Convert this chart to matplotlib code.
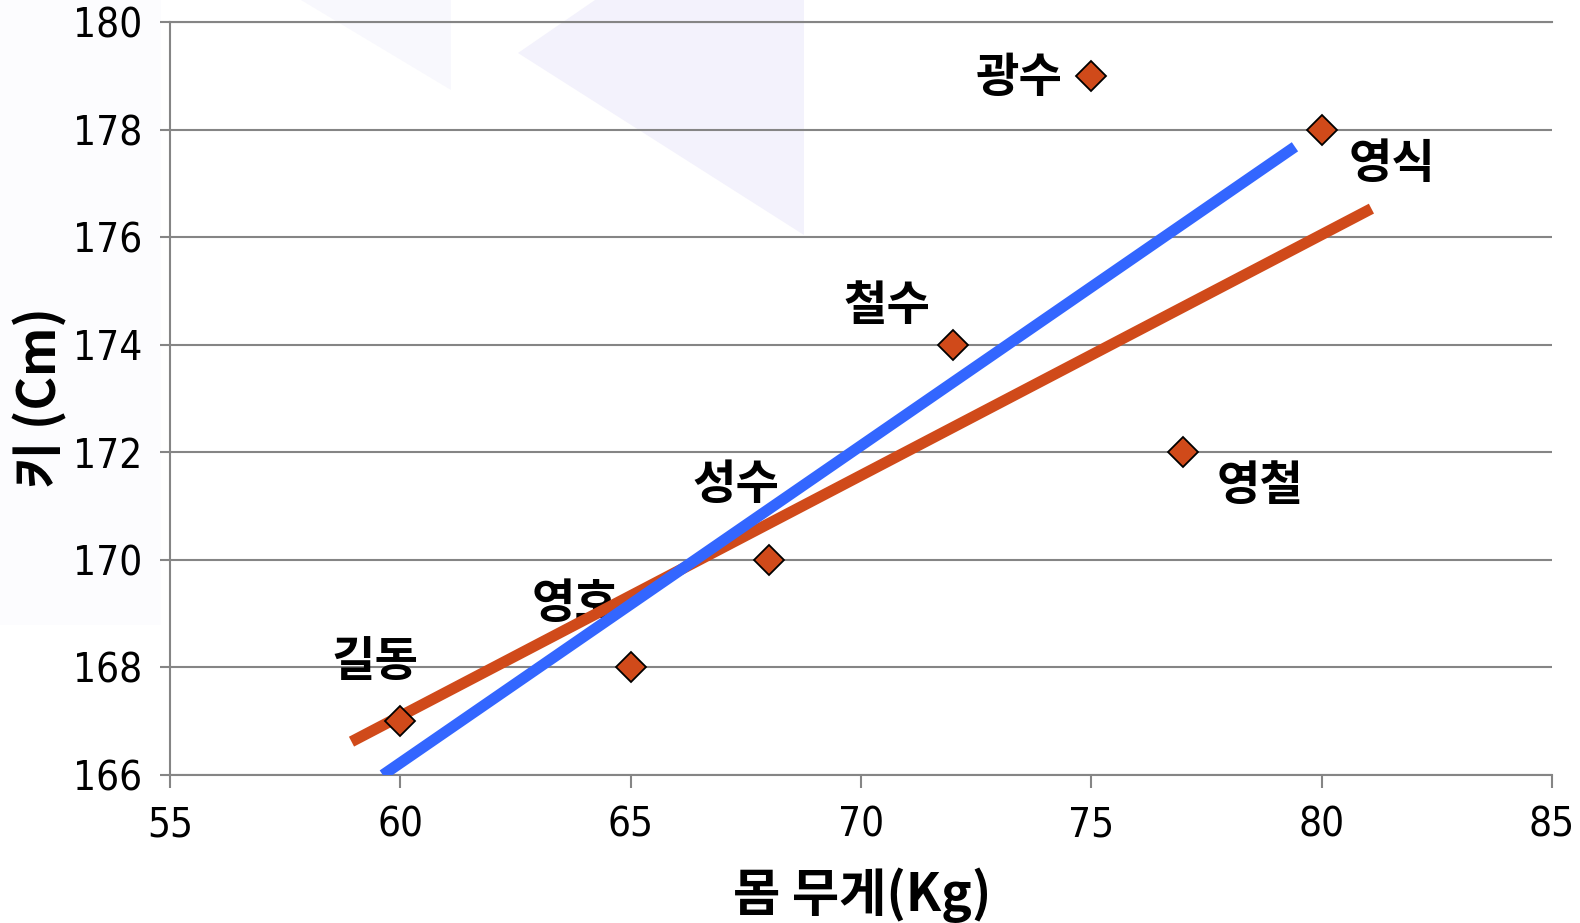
import matplotlib
matplotlib.use("Agg")
import matplotlib.pyplot as plt
from matplotlib.patches import Polygon

# ── 데이터 ───────────────────────────────────────────
weights = [60, 65, 68, 72, 75, 77, 80]
heights = [167, 168, 170, 174, 179, 172, 178]
names = ['길동', '영호', '성수', '철수', '광수', '영철', '영식']

# 손으로 그린 두 추세선 (끝점)
orange_x = [58.94, 81.08]
orange_y = [166.62, 176.53]
blue_x = [59.62, 79.42]
blue_y = [166.0, 177.68]

x_ticks = [55, 60, 65, 70, 75, 80, 85]
y_ticks = [166, 168, 170, 172, 174, 176, 178, 180]

# 라벨 위치 (점 기준 offset, points)
label_offsets = [(-18, 42.5), (-40, 46), (-24, 54), (-47.5, 28),
                 (-52, -1.5), (55, -24.5), (51, -24.5)]

ORANGE = '#D04A1A'
BLUE = '#3366FF'
GRID = '#858585'
KFONT = ['Noto Sans CJK KR', 'DejaVu Sans']

W, H = 1580, 923
fig = plt.figure(figsize=(W / 100, H / 100), dpi=100)
fig.patch.set_facecolor('white')

# 배경의 옅은 보라색 도형
def px(pts):
    return [(x / W, 1 - y / H) for x, y in pts]

bg = [([(518, 53), (595, 0), (804, 0), (804, 235)], '#F3F2FC'),
      ([(301, 0), (451, 0), (451, 90)], '#F8F8FD'),
      ([(0, 0), (161, 0), (161, 625), (0, 625)], '#FCFCFE')]
for pts, col in bg:
    fig.patches.append(Polygon(px(pts), closed=True, transform=fig.transFigure,
                               facecolor=col, edgecolor='none', zorder=0))

ax = fig.add_axes([170 / W, 1 - 775 / H, (1552 - 170) / W, (775 - 22) / H])
ax.set_zorder(2)
ax.set_facecolor('none')

ax.set_xlim(55, 85)
ax.set_ylim(166, 180)
ax.set_xticks(x_ticks)
ax.set_yticks(y_ticks)
ax.set_xticklabels([str(v) for v in x_ticks], family='DejaVu Sans',
                   fontstretch='condensed', fontsize=29)
ax.set_yticklabels([str(v) for v in y_ticks], family='DejaVu Sans',
                   fontstretch='condensed', fontsize=29)

ax.yaxis.grid(True, color=GRID, linewidth=1.5, zorder=0)
ax.set_axisbelow(True)
for side in ['left', 'top', 'bottom']:
    ax.spines[side].set_color(GRID)
    ax.spines[side].set_linewidth(1.5)
ax.spines['right'].set_visible(False)
ax.tick_params(axis='y', direction='out', length=7, width=1.5, color=GRID, pad=13)
ax.tick_params(axis='x', direction='out', length=9, width=1.5, color=GRID, pad=13)

# 이름 라벨 (선 아래)
for w, h, name, off in zip(weights, heights, names, label_offsets):
    ax.annotate(name, (w, h), xytext=off, textcoords='offset points',
                ha='center', va='center', fontsize=34, fontweight='bold',
                family=KFONT, color='black', zorder=2)

ax.plot(orange_x, orange_y, color=ORANGE, linewidth=8, solid_capstyle='butt', zorder=3)
ax.plot(blue_x, blue_y, color=BLUE, linewidth=8, solid_capstyle='butt', zorder=4)

ax.plot(weights, heights, linestyle='none', marker='D', markersize=15,
        markerfacecolor=ORANGE, markeredgecolor='black', markeredgewidth=1.3, zorder=5)

fig.text(862 / W, 1 - 895 / H, '몸 무게(Kg)', ha='center', va='center',
         fontsize=37, fontweight='bold', family=KFONT)
fig.text(40 / W, 1 - 398 / H, '키 (Cm)', ha='center', va='center', rotation=90,
         fontsize=37, fontweight='bold', family=KFONT)

fig.savefig('out.png', dpi=100)
